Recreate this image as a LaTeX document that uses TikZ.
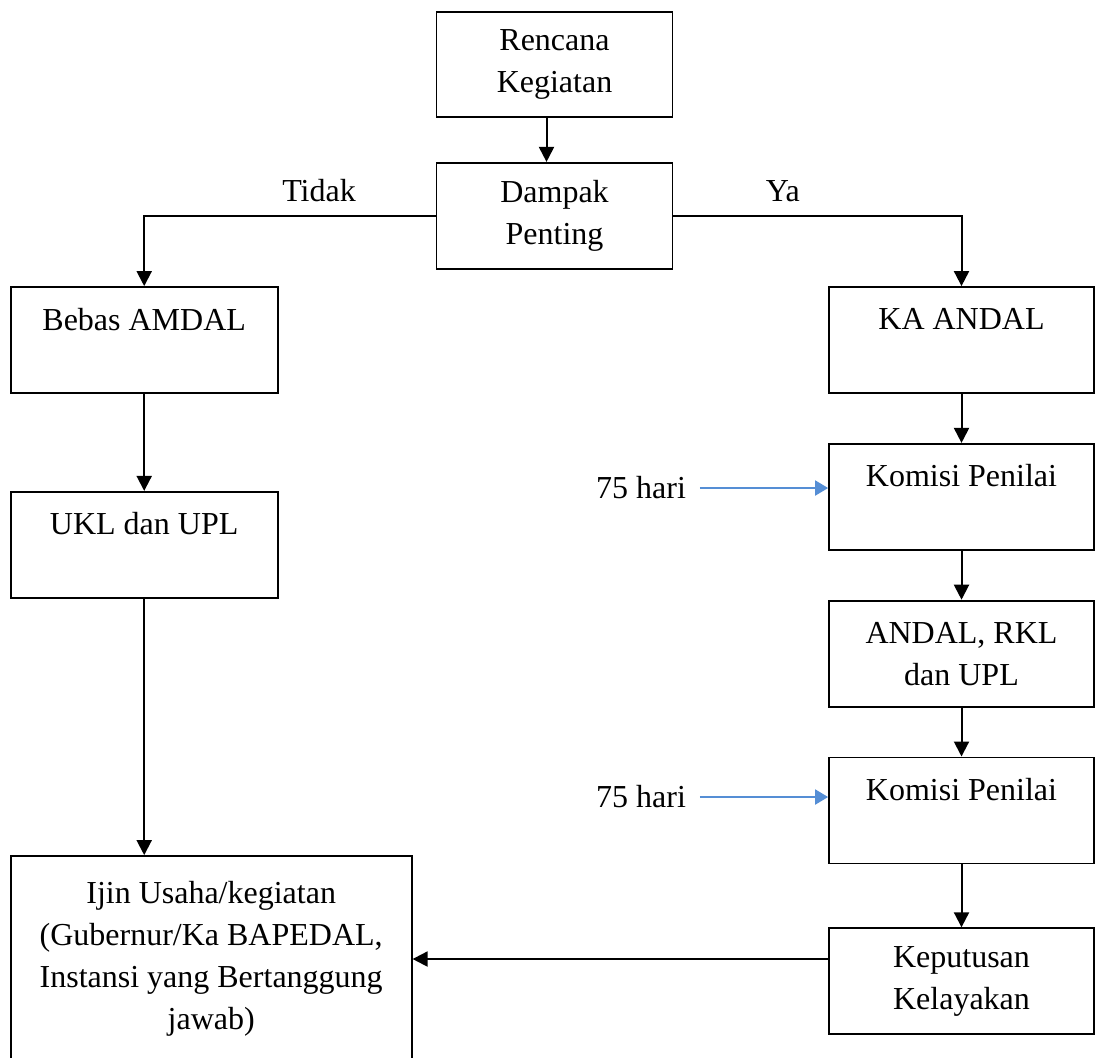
\documentclass[tikz,border=0pt]{standalone}
\usepackage{fontspec}
\setmainfont{Liberation Serif}
\usepackage{tikz}
\usetikzlibrary{positioning, arrows.meta, calc}
\definecolor{timeblue}{HTML}{558ED5}

\begin{document}
\begin{tikzpicture}[x=0.5pt, y=-0.5pt, node distance = 24.5pt,
font=\fontsize{16}{21}\selectfont,
box/.style={rectangle, draw=black, line width=0.9pt, align=center, minimum height=53pt, inner sep=0pt},
path/.style={-{Triangle[width=7.5pt, length=7.5pt]}, line width=1pt},
timepath/.style={-{Triangle[width=7.5pt, length=6.5pt]}, line width=1pt, draw=timeblue},
]
\useasboundingbox (0,0) rectangle (1095,1057);

%Nodes
\node [box, minimum width=118pt, minimum height=52.5pt] (rencana) at (554.5,64.5) {Rencana\\Kegiatan};
\node [box, minimum width=118pt, below = 22pt of rencana] (dampak) {Dampak\\Penting};
\node [box, minimum width=133.5pt] (bebas) at (144.2,340) {Bebas AMDAL\\\mbox{}};
\node [box, minimum width=133.5pt, below = 48.5pt of bebas] (ukl) {UKL dan UPL\\\mbox{}};
\node [box, minimum width=200.5pt, minimum height=103pt] (ijin) at (211.2,959) {Ijin Usaha/kegiatan\\(Gubernur/Ka BAPEDAL,\\Instansi yang Bertanggung\\jawab)};
\node [box, minimum width=132.5pt] (ka_andal) at (961.5,340) {KA ANDAL\\\mbox{}};
\node [box, minimum width=132.5pt, below = of ka_andal] (komisi1) {Komisi Penilai\\\mbox{}};
\node [box, minimum width=132.5pt, below = of komisi1] (andal) {ANDAL, RKL\\dan UPL};
\node [box, minimum width=132.5pt, below = of andal] (komisi2) {Komisi Penilai\\\mbox{}};
\node [box, minimum width=132.5pt, below = 31.5pt of komisi2] (keputusan) {Keputusan\\Kelayakan};
\node (hari1) at (641,488) {75 hari};
\node (hari2) at (641,797) {75 hari};

% Paths
\draw [path] ([xshift=-4pt]rencana.south) -- ([xshift=-4pt]dampak.north);
\draw [path] (dampak.west) -| node[pos=0.2, above=3pt] {Tidak} (bebas.north);
\draw [path] (dampak.east) -| node[pos=0.19, above=3pt] {Ya} (ka_andal.north);

\draw [path] (bebas) -- (ukl);
\draw [path] (ukl.south) -- (ukl.south |- ijin.north);

\draw [path] (ka_andal) -- (komisi1);
\draw [path] (komisi1) -- (andal);
\draw [path] (andal) -- (komisi2);
\draw [path] (komisi2) -- (keputusan);
\draw [path] (keputusan.west |- ijin.east) -- (ijin.east);

\draw [timepath, shorten <=3.5pt] (hari1.east) -- (hari1.east -| komisi1.west);
\draw [timepath, shorten <=3.5pt] (hari2.east) -- (hari2.east -| komisi2.west);
\end{tikzpicture}
\end{document}
